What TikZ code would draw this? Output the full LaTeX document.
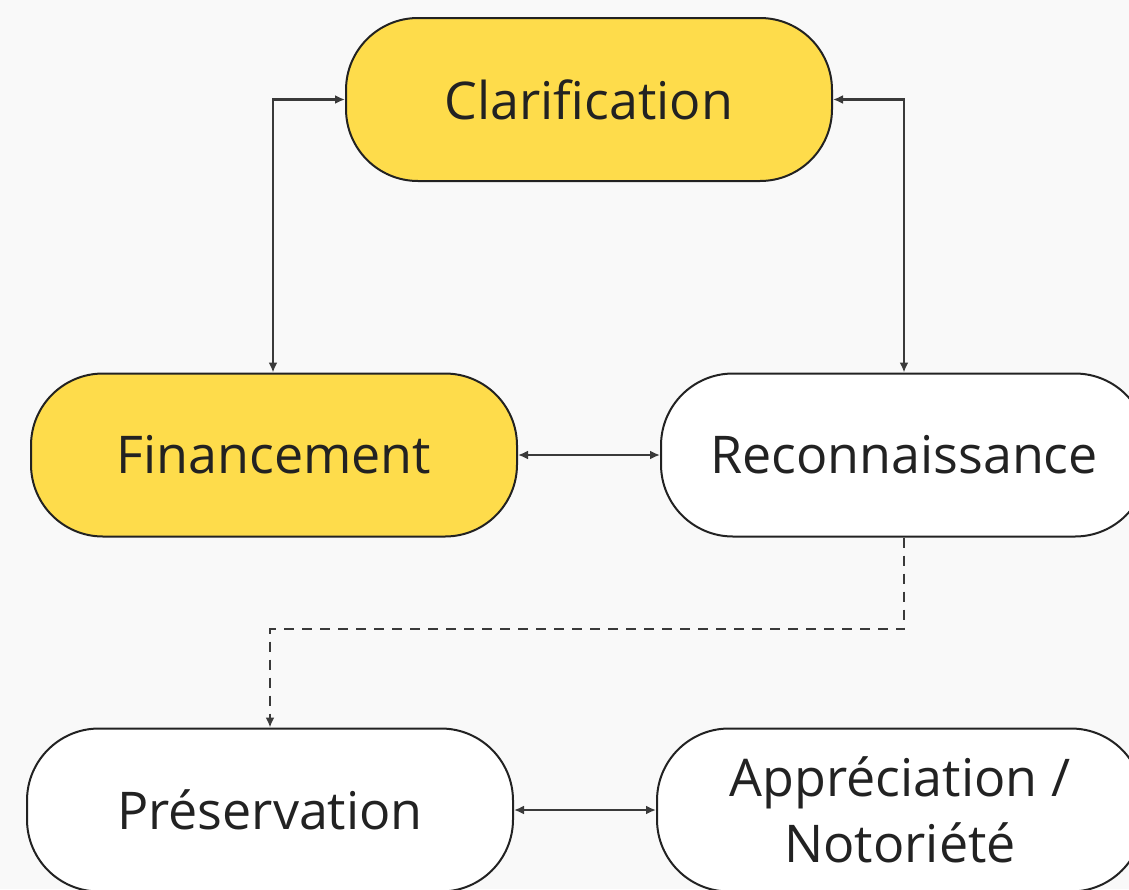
\documentclass[tikz,border=0pt]{standalone}
\usepackage{fontspec}
\setmainfont{Open Sans}
\usetikzlibrary{arrows.meta}
\definecolor{pagebg}{HTML}{F9F9F9}
\definecolor{boxyellow}{HTML}{FEDC4B}
\definecolor{ink}{HTML}{222222}
\definecolor{wire}{HTML}{3A3A3A}
\begin{document}
\begin{tikzpicture}[x=1pt,y=1pt,
  stage/.style={draw=ink, line width=2pt, rounded corners=72pt,
    minimum width=486pt, minimum height=163pt, inner sep=0pt,
    align=center, text=ink, font=\fontsize{52}{66}\selectfont},
  hot/.style={stage, fill=boxyellow},
  cold/.style={stage, fill=white},
  link/.style={draw=wire, line width=2.4pt,
    {Latex[length=10pt,width=9pt]}-{Latex[length=10pt,width=9pt]}},
  flow/.style={draw=wire, line width=2.4pt, dash pattern=on 10pt off 8pt,
    -{Latex[length=10pt,width=9pt]}}]
  \useasboundingbox (0,0) rectangle (1129,-889);
  \fill[pagebg] (0,0) rectangle (1129,-889);

  \node[hot]  (clar) at (589,-99.5)  {Clarification};
  \node[hot]  (fin)  at (274,-455)   {Financement};
  \node[cold] (rec)  at (904,-455)   {Reconnaissance};
  \node[cold] (pres) at (270,-810)   {Préservation};
  \node[cold] (app)  at (900,-810)   {Appréciation /\\Notoriété};

  \coordinate (ul) at (273,-99.5);
  \coordinate (ur) at (904,-99.5);
  \coordinate (d1) at (904,-629);
  \coordinate (d2) at (270,-629);

  \draw[link] (clar.west) -- (ul) -- (fin.north -| ul);
  \draw[link] (clar.east) -- (ur) -- (rec.north);
  \draw[link] (fin.east) -- (rec.west);
  \draw[link] (pres.east) -- (app.west);
  \draw[flow] (rec.south) -- (d1) -- (d2) -- (pres.north);
\end{tikzpicture}
\end{document}
